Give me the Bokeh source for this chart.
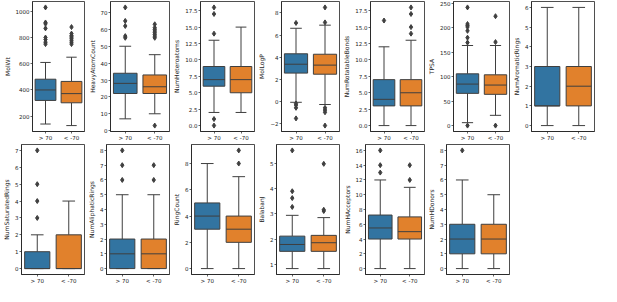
from bokeh.plotting import figure
from bokeh.layouts import column, row
from bokeh.models import FixedTicker, ColumnDataSource, Range1d
from bokeh.transform import dodge
from bokeh.embed import file_html
from bokeh.resources import INLINE

GROUPS = ["> 70", "< -70"]
COLORS = ["#3274a1", "#e1812c"]
LINE = "#3f3f3f"
FONT = "DejaVu Sans"

METRICS = ["MolWt", "HeavyAtomCount", "NumHeteroatoms", "MolLogP", "NumRotatableBonds",
           "TPSA", "NumAromaticRings", "NumSaturatedRings", "NumAliphaticRings",
           "RingCount", "BalabanJ", "NumHAcceptors", "NumHDonors"]

# group "> 70"
HI_WLO = [140, 7, 2, -0.05, 0, 6, 0, 0, 0, 0, 0.84, 0, 0]
HI_Q1 = [320, 22, 6, 2.58, 3, 66, 1, 0, 0, 3, 1.52, 4, 1]
HI_MED = [400, 28, 7, 3.38, 4, 85, 1, 0, 1, 4, 1.79, 5.5, 2]
HI_Q3 = [482, 34, 9, 4.32, 7, 106, 3, 1, 2, 5, 2.12, 7.25, 3]
HI_WHI = [610, 50, 13, 6.62, 12, 164, 6, 2, 5, 8, 2.94, 12, 6]
HI_OUT = [[750, 765, 785, 800, 870, 905, 915, 1030],
          [55, 56, 62, 65, 73],
          [0, 1, 14, 17, 18],
          [-1.5, -0.55, -0.3, -0.15, 7.1],
          [16],
          [0, 170, 180, 194, 202, 205, 208, 242],
          [],
          [3, 4, 5, 7],
          [6, 7, 8],
          [],
          [3.27, 3.62, 3.89, 5.5],
          [13, 14, 16],
          [8]]

# group "< -70"
LO_WLO = [128, 10, 2, -0.25, 0, 21, 0, 0, 0, 0, 0.84, 0, 0]
LO_Q1 = [302, 22, 5, 2.48, 3, 64, 1, 0, 0, 2, 1.52, 4, 1]
LO_MED = [372, 26, 7, 3.3, 5, 83, 2, 0, 1, 3, 1.86, 5, 2]
LO_Q3 = [465, 33, 9, 4.28, 7, 104, 3, 2, 2, 4, 2.15, 7, 3]
LO_WHI = [650, 45, 15, 6.9, 13, 164, 6, 4, 5, 7, 2.85, 11, 5]
LO_OUT = [[750, 765, 780, 795, 805, 815, 830, 880],
          [3, 55, 56, 57, 58, 59, 60, 61, 63],
          [],
          [-2.15, -0.95, -0.75, -0.55, 7.15, 8.5],
          [14, 15, 17, 18],
          [0, 171, 224],
          [],
          [],
          [6, 7],
          [8, 9],
          [3.11, 3.16, 4.97],
          [12, 14],
          []]

TICKS = [[200, 400, 600, 800, 1000],
         [0, 10, 20, 30, 40, 50, 60, 70],
         [0, 2.5, 5, 7.5, 10, 12.5, 15, 17.5],
         [-2, 0, 2, 4, 6, 8],
         [0, 2.5, 5, 7.5, 10, 12.5, 15, 17.5],
         [0, 50, 100, 150, 200, 250],
         [0, 1, 2, 3, 4, 5, 6],
         [0, 1, 2, 3, 4, 5, 6, 7],
         [0, 1, 2, 3, 4, 5, 6, 7, 8],
         [0, 2, 4, 6, 8],
         [1, 2, 3, 4, 5],
         [0, 2, 4, 6, 8, 10, 12, 14, 16],
         [0, 1, 2, 3, 4, 5, 6, 7, 8]]
TICK_LABELS = [["200", "400", "600", "800", "1000"],
               ["0", "10", "20", "30", "40", "50", "60", "70"],
               ["0.0", "2.5", "5.0", "7.5", "10.0", "12.5", "15.0", "17.5"],
               ["−2", "0", "2", "4", "6", "8"],
               ["0.0", "2.5", "5.0", "7.5", "10.0", "12.5", "15.0", "17.5"],
               ["0", "50", "100", "150", "200", "250"],
               ["0", "1", "2", "3", "4", "5", "6"],
               ["0", "1", "2", "3", "4", "5", "6", "7"],
               ["0", "1", "2", "3", "4", "5", "6", "7", "8"],
               ["0", "2", "4", "6", "8"],
               ["1", "2", "3", "4", "5"],
               ["0", "2", "4", "6", "8", "10", "12", "14", "16"],
               ["0", "1", "2", "3", "4", "5", "6", "7", "8"]]

W, H = 85, 143


def panel(i):
    vals = [HI_WLO[i], HI_WHI[i], LO_WLO[i], LO_WHI[i]] + HI_OUT[i] + LO_OUT[i]
    lo, hi = min(vals), max(vals)
    pad = (hi - lo) * 0.05
    p = figure(x_range=GROUPS, y_range=Range1d(lo - pad, hi + pad), width=W, height=H,
               output_backend="svg", toolbar_location=None,
               min_border_left=18, min_border_right=1, min_border_top=1, min_border_bottom=11)
    src = ColumnDataSource(dict(x=GROUPS, wlo=[HI_WLO[i], LO_WLO[i]], q1=[HI_Q1[i], LO_Q1[i]],
                                med=[HI_MED[i], LO_MED[i]], q3=[HI_Q3[i], LO_Q3[i]],
                                whi=[HI_WHI[i], LO_WHI[i]], color=COLORS))
    p.segment(x0="x", y0="q3", x1="x", y1="whi", source=src, line_color=LINE, line_width=1)
    p.segment(x0="x", y0="q1", x1="x", y1="wlo", source=src, line_color=LINE, line_width=1)
    p.vbar(x="x", top="q3", bottom="q1", width=0.8, source=src, fill_color="color",
           line_color=LINE, line_width=1)
    p.segment(x0=dodge("x", -0.4, range=p.x_range), y0="med",
              x1=dodge("x", 0.4, range=p.x_range), y1="med", source=src,
              line_color=LINE, line_width=1)
    for col in ("whi", "wlo"):
        p.segment(x0=dodge("x", -0.2, range=p.x_range), y0=col,
                  x1=dodge("x", 0.2, range=p.x_range), y1=col, source=src,
                  line_color=LINE, line_width=1)
    for g, outs in zip(GROUPS, (HI_OUT[i], LO_OUT[i])):
        if outs:
            p.scatter(x=[g] * len(outs), y=outs, marker="diamond", size=5,
                      fill_color=LINE, line_color=LINE)

    p.xgrid.visible = False
    p.ygrid.visible = False
    p.outline_line_color = "#222222"
    p.outline_line_width = 0.8
    p.yaxis.ticker = FixedTicker(ticks=TICKS[i])
    p.yaxis.major_label_overrides = {t: s for t, s in zip(TICKS[i], TICK_LABELS[i])}
    p.yaxis.axis_label = METRICS[i]
    for ax in (p.xaxis[0], p.yaxis[0]):
        ax.axis_line_color = "#222222"
        ax.axis_line_width = 0.8
        ax.major_tick_line_color = "#222222"
        ax.major_tick_line_width = 0.7
        ax.major_tick_out = 2
        ax.major_tick_in = 0
        ax.minor_tick_line_color = None
        ax.major_label_text_font = FONT
        ax.major_label_text_font_size = "5.5px"
        ax.major_label_text_color = "#222222"
        ax.major_label_standoff = 1
        ax.axis_label_text_font = FONT
        ax.axis_label_text_font_size = "6px"
        ax.axis_label_text_font_style = "normal"
        ax.axis_label_text_color = "#222222"
        ax.axis_label_standoff = 2
    return p


figs = [panel(i) for i in range(len(METRICS))]
layout = column(row(*figs[:7]), row(*figs[7:]))

open("out.html", "w").write(file_html(layout, INLINE))
